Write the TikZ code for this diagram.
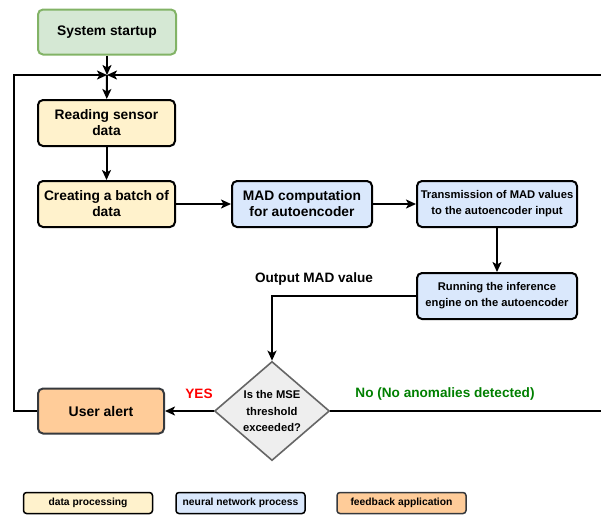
\documentclass[tikz,border=0pt]{standalone}
\usepackage{fontspec}
\setmainfont{Liberation Sans}
\usetikzlibrary{arrows.meta,shapes.geometric}
\definecolor{gfill}{HTML}{D5E8D4}\definecolor{gline}{HTML}{82B366}
\definecolor{yfill}{HTML}{FFF2CC}\definecolor{bfill}{HTML}{DAE8FC}
\definecolor{ofill}{HTML}{FFCC99}\definecolor{dfill}{HTML}{EEEEEE}
\definecolor{dline}{HTML}{666666}\definecolor{noclr}{HTML}{007F00}
\definecolor{oline}{HTML}{36393D}
\tikzset{
  box/.style={draw=black,line width=2pt,rounded corners=5pt,minimum width=137pt,minimum height=46pt,align=center,font=\fontsize{13.8}{16}\selectfont\bfseries,inner sep=1pt},
  ybox/.style={box,fill=yfill},
  bbox/.style={box,fill=bfill},
  sbox/.style={box,fill=bfill,minimum width=160pt,font=\fontsize{11.2}{16}\selectfont\bfseries},
  leg/.style={draw=black,line width=1.5pt,rounded corners=3pt,minimum width=129pt,minimum height=21pt,font=\fontsize{10.3}{12}\selectfont\bfseries,inner sep=1pt},
  conn/.style={line width=2pt,-{Stealth[length=10pt,width=9pt,inset=2.5pt]}},
  lbl/.style={font=\fontsize{13.6}{15}\selectfont\bfseries},
}
\begin{document}
\begin{tikzpicture}[x=1pt,y=-1pt]
\useasboundingbox (0,0) rectangle (601,515);
\clip (0,0) rectangle (601,515);
\node[box,fill=gfill,draw=gline,minimum width=138pt,minimum height=45pt] (start) at (107,32) {System startup};
\node[ybox] (read) at (106.5,123) {Reading sensor\\data};
\node[ybox] (batch) at (106.5,204) {Creating a batch of\\data};
\node[bbox,minimum width=140pt] (mad) at (302,204) {MAD computation\\for autoencoder};
\node[sbox] (trans) at (497,204) {Transmission of MAD values\\to the autoencoder input};
\node[sbox] (run) at (497,296) {Running the inference\\engine on the autoencoder};
\node[diamond,draw=dline,line width=1.6pt,fill=dfill,minimum width=115pt,minimum height=90pt,inner sep=0pt,align=center,font=\fontsize{11.2}{16.5}\selectfont\bfseries] (dec) at (272,411) {Is the MSE\\threshold\\exceeded?};
\node[box,fill=ofill,draw=oline,minimum width=126pt,minimum height=45pt,font=\fontsize{14}{16}\selectfont\bfseries] (alert) at (101,411) {User alert};
\node[leg,fill=yfill] (l1) at (88,503) {data processing};
\node[leg,fill=bfill] (l2) at (240.5,503) {neural network process};
\node[leg,fill=ofill,draw=oline] (l3) at (401.5,503) {feedback application};
\coordinate (merge) at (107,75);
\coordinate (ltop) at (14,75);
\coordinate (lbot) at (14,411);
\coordinate (rtop) at (610,75);
\coordinate (rbot) at (610,411);
\draw[conn] (start) -- (merge);
\draw[conn] (merge) -- (read);
\draw[conn] (read) -- (batch);
\draw[conn] (batch) -- (mad);
\draw[conn] (mad) -- (trans);
\draw[conn] (trans) -- (run);
\draw[conn] (run.west) -| (dec.north);
\draw[conn] (dec.west) -- (alert.east);
\draw[conn] (alert.west) -- (lbot) -- (ltop) -- (merge);
\draw[conn] (dec.east) -- (rbot) -- (rtop) -- (merge);
\node[lbl] (outl) at (314,279) {Output MAD value};
\node[lbl,text={rgb,255:red,255;green,0;blue,0}] (yes) at (199,394) {YES};
\node[lbl,text=noclr] (no) at (445,394) {No (No anomalies detected)};
\end{tikzpicture}
\end{document}
